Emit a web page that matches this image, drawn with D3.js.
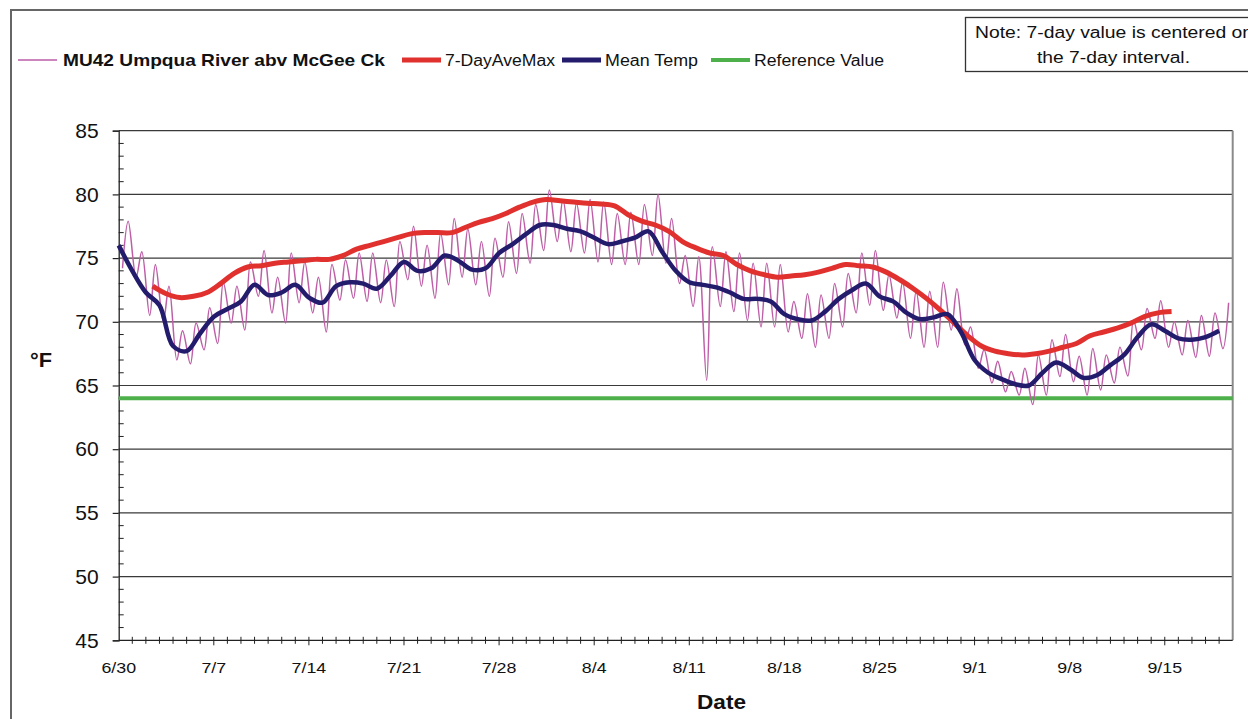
<!DOCTYPE html>
<html>
<head>
<meta charset="utf-8">
<script src="https://cdn.jsdelivr.net/npm/d3@7"></script>
<style>
    html, body { margin: 0; padding: 0; background: #fff; }
    svg { display: block; font-family: "Liberation Sans", Arial, sans-serif; }
</style>
</head>
<body>
<svg id="chart"></svg>
<script>
// day offsets are counted from 6/30
var weekLabels = ["6/30", "7/7", "7/14", "7/21", "7/28", "8/4", "8/11", "8/18", "8/25", "9/1", "9/8", "9/15"];
var yTicks = [45, 50, 55, 60, 65, 70, 75, 80, 85];

// hourly record, read as the daily low (morning) and high (afternoon)
var dailyMin = [74.2, 73.5, 70.5, 70.0, 67.0, 66.7, 67.8, 68.3, 69.9, 69.35,
    72.0, 70.7, 69.9, 71.5, 70.7, 69.2, 71.7, 71.85, 71.6, 71.5,
    71.2, 73.3, 72.8, 71.85, 72.9, 73.5, 72.9, 72.0, 73.5, 73.8,
    74.6, 75.6, 76.3, 75.5, 75.4, 74.7, 74.5, 74.5, 74.5, 75.2,
    74.6, 73.0, 71.2, 65.4, 71.2, 70.8, 70.1, 69.6, 69.6, 69.2,
    68.7, 68.0, 68.7, 69.6, 70.7, 71.3, 70.9, 70.3, 68.7, 68.0,
    68.0, 69.35, 68.2, 66.35, 65.2, 64.5, 64.25, 63.5, 64.25, 65.7,
    65.3, 64.25, 64.65, 65.2, 65.75, 67.8, 68.7, 68.0, 67.4, 67.2,
    67.3, 67.9];
var dailyMax = [77.9, 75.5, 74.5, 72.8, 69.3, 69.9, 71.1, 73.1, 72.8, 74.7,
    75.6, 73.5, 75.4, 74.7, 73.5, 74.5, 74.85, 75.4, 75.4, 74.85,
    76.3, 77.5, 76.0, 76.95, 78.1, 77.3, 76.3, 76.55, 77.85, 78.5,
    79.2, 80.35, 79.6, 79.3, 79.6, 79.4, 78.5, 78.6, 79.2, 80.0,
    78.1, 75.2, 75.1, 75.9, 75.5, 75.4, 74.6, 74.6, 74.5, 71.6,
    72.2, 72.1, 73.0, 73.8, 75.4, 75.6, 73.7, 73.1, 72.4, 72.4,
    73.1, 72.6, 69.6, 67.8, 66.9, 66.1, 66.35, 67.4, 68.6, 69.0,
    67.3, 67.9, 67.4, 68.0, 70.1, 71.05, 71.65, 70.0, 70.1, 70.5,
    70.7, 71.5];

// daily mean, one value per day from 6/30
var meanTemp = [76.0, 74.0, 72.3, 71.3, 68.1, 67.7, 69.1, 70.4, 71.0, 71.6,
    72.9, 72.1, 72.3, 72.9, 71.9, 71.5, 72.8, 73.1, 73.0, 72.6,
    73.6, 74.7, 74.0, 74.2, 75.2, 74.8, 74.1, 74.2, 75.4, 76.1,
    76.9, 77.6, 77.6, 77.3, 77.1, 76.6, 76.1, 76.3, 76.6, 77.1,
    75.5, 74.0, 73.1, 72.9, 72.7, 72.3, 71.8, 71.8, 71.6, 70.6,
    70.2, 70.1, 70.8, 71.8, 72.5, 73.0, 72.0, 71.6, 70.7, 70.2,
    70.35, 70.6, 69.2, 67.0, 66.0, 65.5, 65.1, 65.0, 66.0, 66.8,
    66.3, 65.6, 65.8, 66.6, 67.4, 68.8, 69.8, 69.3, 68.7, 68.6,
    68.8, 69.3];

// 7-day average of daily maximum, centered, first value at 7/2 noon
var aveMaxStart = 2.5;
var aveMax = [72.8, 72.2, 71.9, 72.0, 72.3, 73.0, 73.8, 74.3, 74.4, 74.6,
    74.7, 74.8, 74.9, 74.9, 75.2, 75.7, 76.0, 76.3, 76.6, 76.9,
    77.0, 77.0, 77.0, 77.4, 77.8, 78.1, 78.5, 79.0, 79.4, 79.6,
    79.5, 79.4, 79.3, 79.25, 79.1, 78.4, 77.9, 77.6, 77.1, 76.3,
    75.8, 75.4, 75.2, 74.5, 74.0, 73.7, 73.5, 73.6, 73.7, 73.9,
    74.2, 74.5, 74.4, 74.3, 73.9, 73.3, 72.6, 71.8, 70.9, 69.9,
    68.9, 68.1, 67.7, 67.5, 67.4, 67.5, 67.7, 68.0, 68.3, 68.9,
    69.2, 69.5, 69.9, 70.4, 70.7, 70.8];

var referenceValue = 64;
var totalDays = 82;

var cfg = {
    "width": 1248,
    "height": 719,
    "plot": {"left": 118.7, "right": 1232.7, "top": 130.7, "bottom": 640.3},
    "colors": {
        "hourly": "#bd5ea7",
        "aveMax": "#e0312f",
        "mean": "#231b6c",
        "reference": "#4db04a",
        "grid": "#3a3a3a"
    }
};

var svg = d3.select("#chart").attr("width", cfg.width).attr("height", cfg.height);

var x = d3.scaleLinear().domain([0, totalDays]).range([cfg.plot.left, cfg.plot.right]);
var y = d3.scaleLinear().domain([45, 85]).range([cfg.plot.bottom, cfg.plot.top]);

/**
 * text that is stretched to a given width, as in the original export
 */
var addText = function (parent, str, px, py, size, width, anchor, bold) {
    var t = parent.append("text")
        .attr("x", px).attr("y", py)
        .attr("font-size", size)
        .attr("fill", "#111")
        .attr("text-anchor", anchor || "start")
        .attr("font-weight", bold ? "bold" : "normal")
        .text(str);
    if (width) {
        t.attr("textLength", width).attr("lengthAdjust", "spacingAndGlyphs");
    }
    return t;
};

/**
 * outer frame and note box
 */
var drawFrame = function () {
    svg.append("path")
        .attr("d", "M11,730 V10 H1260")
        .attr("fill", "none")
        .attr("stroke", "#666")
        .attr("stroke-width", 2);

    var note = svg.append("g");
    note.append("rect")
        .attr("x", 965.5).attr("y", 17.5)
        .attr("width", 300).attr("height", 54)
        .attr("fill", "#fff")
        .attr("stroke", "#333")
        .attr("stroke-width", 1.3);
    addText(note, "Note: 7-day value is centered on", 975, 38, 16, 278);
    addText(note, "the 7-day interval.", 1037, 63, 16, 153);
};

/**
 * gridlines and axes
 */
var drawAxis = function () {
    var g = svg.append("g");
    // horizontal gridlines
    g.selectAll("line.grid")
        .data(yTicks.slice(1))
        .enter()
        .append("line")
        .attr("class", "grid")
        .attr("x1", cfg.plot.left).attr("x2", cfg.plot.right)
        .attr("y1", function (d) { return y(d); })
        .attr("y2", function (d) { return y(d); })
        .attr("stroke", cfg.colors.grid)
        .attr("stroke-width", 1.2);

    // right border
    g.append("line")
        .attr("x1", cfg.plot.right).attr("x2", cfg.plot.right)
        .attr("y1", cfg.plot.top).attr("y2", cfg.plot.bottom)
        .attr("stroke", "#8a8a8a")
        .attr("stroke-width", 2);

    // y axis: major ticks outward, minor ticks inward
    var yAxis = d3.axisLeft(y).tickValues(yTicks).tickSize(6).tickPadding(14).tickFormat(d3.format("d"));
    var ya = g.append("g")
        .attr("transform", "translate(" + cfg.plot.left + ",0)")
        .call(yAxis);
    ya.select(".domain").attr("stroke", "#222").attr("stroke-width", 1.3);
    ya.selectAll(".tick line").attr("stroke", "#222").attr("stroke-width", 1.2);
    ya.selectAll("text").attr("font-size", 21).attr("fill", "#111")
        .attr("font-family", "Liberation Sans, Arial, sans-serif");

    var minorY = d3.range(45, 86).filter(function (v) { return v % 5 !== 0; });
    g.selectAll("line.yminor")
        .data(minorY)
        .enter()
        .append("line")
        .attr("class", "yminor")
        .attr("x1", cfg.plot.left).attr("x2", cfg.plot.left + 5)
        .attr("y1", function (d) { return y(d); })
        .attr("y2", function (d) { return y(d); })
        .attr("stroke", "#222")
        .attr("stroke-width", 1);

    // x axis
    var xa = g.append("g")
        .attr("transform", "translate(0," + cfg.plot.bottom + ")");
    xa.append("line")
        .attr("x1", cfg.plot.left).attr("x2", cfg.plot.right)
        .attr("stroke", "#222").attr("stroke-width", 1.3);
    xa.selectAll("line.xminor")
        .data(d3.range(1, totalDays))
        .enter()
        .append("line")
        .attr("class", "xminor")
        .attr("x1", function (d) { return x(d); })
        .attr("x2", function (d) { return x(d); })
        .attr("y1", -3.5)
        .attr("y2", function (d) { return d % 7 === 0 ? 5 : 3.5; })
        .attr("stroke", "#222")
        .attr("stroke-width", 1);
    xa.selectAll("text")
        .data(weekLabels)
        .enter()
        .append("text")
        .attr("transform", function (d, i) { return "translate(" + x(i * 7) + ",33) scale(1.15,1)"; })
        .attr("text-anchor", "middle")
        .attr("font-size", 15.5)
        .attr("fill", "#111")
        .text(function (d) { return d; });

    addText(svg, "Date", 697, 709, 20, 49, "start", true);
    addText(svg, "°F", 30, 367, 20, 22, "start", true);
};

/**
 * data series
 */
var drawLines = function () {
    var g = svg.append("g");

    // reference value
    g.append("line")
        .attr("x1", cfg.plot.left).attr("x2", cfg.plot.right)
        .attr("y1", y(referenceValue)).attr("y2", y(referenceValue))
        .attr("stroke", cfg.colors.reference)
        .attr("stroke-width", 4);

    // hourly trace: low in the morning, high in the afternoon
    var hourly = [];
    dailyMin.forEach(function (v, i) {
        hourly.push([i + 0.28, v]);
        hourly.push([i + 0.7, dailyMax[i]]);
    });
    var lineHourly = d3.line()
        .x(function (d) { return x(d[0]); })
        .y(function (d) { return y(d[1]); })
        .curve(d3.curveCatmullRom.alpha(0.5));
    g.append("path")
        .attr("d", lineHourly(hourly))
        .attr("fill", "none")
        .attr("stroke", cfg.colors.hourly)
        .attr("stroke-width", 1.5);

    var lineAve = d3.line()
        .x(function (d, i) { return x(aveMaxStart + i); })
        .y(function (d) { return y(d); })
        .curve(d3.curveCatmullRom.alpha(0.5));
    g.append("path")
        .attr("d", lineAve(aveMax))
        .attr("fill", "none")
        .attr("stroke", cfg.colors.aveMax)
        .attr("stroke-width", 5);

    var lineMean = d3.line()
        .x(function (d, i) { return x(i); })
        .y(function (d) { return y(d); })
        .curve(d3.curveCatmullRom.alpha(0.5));
    g.append("path")
        .attr("d", lineMean(meanTemp))
        .attr("fill", "none")
        .attr("stroke", cfg.colors.mean)
        .attr("stroke-width", 4.5)
        .attr("stroke-linejoin", "round");
};

/**
 * legend row
 */
var drawLegend = function () {
    var items = [
        {"name": "MU42 Umpqua River abv McGee Ck", "color": cfg.colors.hourly, "width": 1.6, "x": 18, "bold": true, "len": 322},
        {"name": "7-DayAveMax", "color": cfg.colors.aveMax, "width": 5, "x": 402, "bold": false, "len": 110},
        {"name": "Mean Temp", "color": cfg.colors.mean, "width": 5, "x": 562, "bold": false, "len": 93},
        {"name": "Reference Value", "color": cfg.colors.reference, "width": 4, "x": 711, "bold": false, "len": 130}
    ];
    var g = svg.append("g").attr("transform", "translate(0,60)");
    var item = g.selectAll("g").data(items).enter().append("g")
        .attr("transform", function (d) { return "translate(" + d.x + ",0)"; });
    item.append("line")
        .attr("x1", 0).attr("x2", 39)
        .attr("stroke", function (d) { return d.color; })
        .attr("stroke-width", function (d) { return d.width; });
    item.each(function (d) {
        addText(d3.select(this), d.name, d.bold ? 45 : 43, 6, d.bold ? 17 : 16, d.len, "start", d.bold);
    });
};

drawFrame();
drawAxis();
drawLines();
drawLegend();
</script>
</body>
</html>
